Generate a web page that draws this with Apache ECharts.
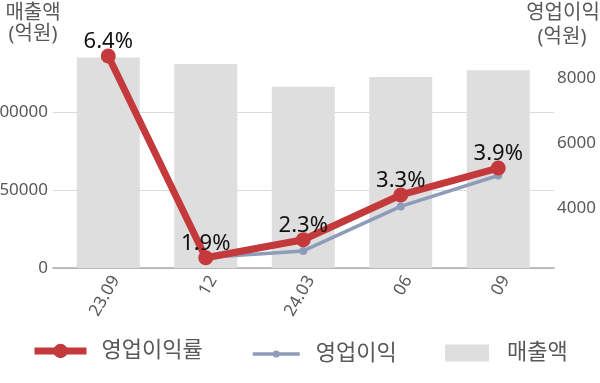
<!DOCTYPE html>
<html>
<head>
<meta charset="utf-8">
<script src="https://cdn.jsdelivr.net/npm/echarts@6/dist/echarts.min.js"></script>
<style>html,body{margin:0;padding:0;background:#fff}#c{width:600px;height:383px}</style>
</head>
<body>
<div id="c"></div>
<script>
const categories = ['23.09', '12', '24.03', '06', '09'];
const revenue = [135000, 130800, 116200, 122400, 126800];      // 매출액 (억원)
const opProfit = [8640, 2480, 2680, 4050, 5000];               // 영업이익 (억원)
const opMargin = [6.4, 1.9, 2.3, 3.3, 3.9];                    // 영업이익률 (%)
const leftTicks = [0, 50000, 100000];
const rightTicks = [4000, 6000, 8000];

const FONT = "'Noto Sans', 'Noto Sans CJK KR', sans-serif";
const GRAY = '#595959';
const RED = '#C4393B';
const BLUE = '#8E9CB9';
const BAR = '#DEDEDE';

const chart = echarts.init(document.getElementById('c'));
chart.setOption({
  animation: false,
  textStyle: { fontFamily: FONT },
  grid: [
    { left: 59.5, right: 53, top: 34, bottom: 115, outerBoundsMode: 'none', containLabel: false },
    { left: 53, right: 46, top: 34, bottom: 115, outerBoundsMode: 'none', containLabel: false }
  ],
  xAxis: [
    {
      type: 'category', data: categories, gridIndex: 0,
      axisLine: { show: false }, axisTick: { show: false },
      axisLabel: { rotate: 60, fontSize: 17, color: GRAY, margin: 5, verticalAlign: 'top', fontFamily: FONT }
    },
    {
      type: 'value', gridIndex: 1, min: 0, max: 1,
      axisLine: { show: true, lineStyle: { color: '#ABABAB', width: 1.5 } },
      axisTick: { show: false }, axisLabel: { show: false }, splitLine: { show: false }
    }
  ],
  yAxis: [
    { // data axis for revenue (hidden)
      type: 'value', gridIndex: 0, min: 0, max: 150000, show: false
    },
    { // right axis: 영업이익
      type: 'value', gridIndex: 0, position: 'right', min: 2154, max: 9354,
      axisLine: { show: false }, axisTick: { show: false }, splitLine: { show: false },
      axisLabel: { customValues: rightTicks, fontSize: 17, color: GRAY, margin: 10, fontFamily: FONT,
        formatter: v => String(v) }
    },
    { // hidden axis for 영업이익률
      type: 'value', gridIndex: 0, min: 1.670, max: 6.891, show: false
    },
    { // visible left axis with gridlines
      type: 'value', gridIndex: 1, min: 0, max: 150000, interval: 50000,
      axisLine: { show: false }, axisTick: { show: false },
      splitLine: { show: true, showMaxLine: false, lineStyle: { color: '#DCDCDC', width: 1 } },
      axisLabel: {
        fontSize: 17, color: GRAY, margin: 5, fontFamily: FONT,
        formatter: v => (leftTicks.indexOf(v) >= 0 ? String(v) : '')
      }
    }
  ],
  legend: [
    {
      left: 31, top: 340, padding: 0, itemWidth: 52, itemHeight: 18, itemGap: 0,
      data: ['영업이익률'],
      lineStyle: { width: 7 },
      textStyle: { fontSize: 22, color: GRAY, fontFamily: FONT, padding: [0, 0, 0, 10] }
    },
    {
      left: 251, top: 343, padding: 0, itemWidth: 47, itemHeight: 9, itemGap: 0,
      data: ['영업이익'],
      lineStyle: { width: 3.5 },
      textStyle: { fontSize: 22, color: GRAY, fontFamily: FONT, padding: [0, 0, 0, 11] }
    },
    {
      left: 445, top: 342, padding: 0, itemWidth: 44, itemHeight: 17, itemGap: 0,
      data: ['매출액'],
      icon: 'rect',
      textStyle: { fontSize: 22, color: GRAY, fontFamily: FONT, padding: [0, 0, 0, 13] }
    }
  ],
  graphic: [
    { type: 'text', x: 33, y: 13, style: { text: '매출액', fontSize: 20, fill: GRAY, fontFamily: FONT, textAlign: 'center', textVerticalAlign: 'middle' } },
    { type: 'text', x: 33, y: 34, style: { text: '(억원)', fontSize: 20, fill: GRAY, fontFamily: FONT, textAlign: 'center', textVerticalAlign: 'middle' } },
    { type: 'text', x: 563, y: 13, style: { text: '영업이익', fontSize: 20, fill: GRAY, fontFamily: FONT, textAlign: 'center', textVerticalAlign: 'middle' } },
    { type: 'text', x: 562, y: 37, style: { text: '(억원)', fontSize: 20, fill: GRAY, fontFamily: FONT, textAlign: 'center', textVerticalAlign: 'middle' } }
  ],
  series: [
    {
      name: '매출액', type: 'bar', xAxisIndex: 0, yAxisIndex: 0,
      data: revenue, barWidth: 63, itemStyle: { color: BAR }, z: 1
    },
    {
      name: '영업이익', type: 'line', xAxisIndex: 0, yAxisIndex: 1,
      data: opProfit, symbol: 'circle', symbolSize: 8,
      lineStyle: { color: BLUE, width: 3.5 }, itemStyle: { color: BLUE }, z: 3
    },
    {
      name: '영업이익률', type: 'line', xAxisIndex: 0, yAxisIndex: 2,
      data: opMargin, symbol: 'circle', symbolSize: 15,
      lineStyle: { color: RED, width: 7 }, itemStyle: { color: RED }, z: 4,
      label: {
        show: true, position: 'inside', offset: [0, -14],
        fontSize: 22, color: '#111', fontFamily: FONT,
        formatter: p => p.value + '%'
      }
    }
  ]
});
</script>
</body>
</html>
